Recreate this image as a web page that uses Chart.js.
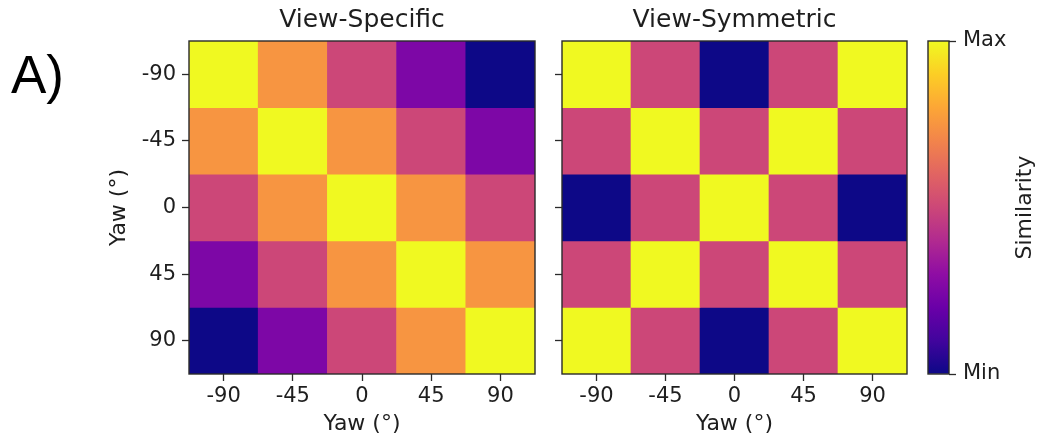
<!DOCTYPE html>
<html>
<head>
<meta charset="utf-8">
<script src="https://cdn.jsdelivr.net/npm/chart.js@4.4.1/dist/chart.umd.min.js"></script>
<style>
  html, body { margin: 0; padding: 0; background: #fff; }
  body { width: 1043px; height: 441px; position: relative; overflow: hidden; }
  .panel { position: absolute; top: 0; height: 441px; }
</style>
</head>
<body>
<div class="panel" style="left:0;width:550px"><canvas id="specific"></canvas></div>
<div class="panel" style="left:550px;width:365px"><canvas id="symmetric"></canvas></div>
<div class="panel" style="left:915px;width:128px"><canvas id="colorbar"></canvas></div>
<script>
// Yaw angles shared by both axes of both matrices
const yawLabels = ['-90', '-45', '0', '45', '90'];

// Similarity between views (rows: yaw on y axis, columns: yaw on x axis)
const viewSpecific = [
  [1.00, 0.75, 0.50, 0.25, 0.00],
  [0.75, 1.00, 0.75, 0.50, 0.25],
  [0.50, 0.75, 1.00, 0.75, 0.50],
  [0.25, 0.50, 0.75, 1.00, 0.75],
  [0.00, 0.25, 0.50, 0.75, 1.00]
];
const viewSymmetric = [
  [1.00, 0.50, 0.00, 0.50, 1.00],
  [0.50, 1.00, 0.50, 1.00, 0.50],
  [0.00, 0.50, 1.00, 0.50, 0.00],
  [0.50, 1.00, 0.50, 1.00, 0.50],
  [1.00, 0.50, 0.00, 0.50, 1.00]
];

const colorbarRange = [0, 1];
const colorbarLabels = ['Min', 'Max'];
const panelTitles = ['View-Specific', 'View-Symmetric'];
const axisTitle = 'Yaw (°)';
const colorbarTitle = 'Similarity';
const panelTag = 'A)';

Chart.defaults.font.family = '"DejaVu Sans", sans-serif';
Chart.defaults.color = '#1e1e1e';
const INK = '#2a2a2a';

// plasma colour map, sampled every 0.1
const PLASMA = ['#0d0887', '#41049d', '#6a00a8', '#8f0da4', '#b12a90', '#cc4778',
                '#e16462', '#f2844b', '#fca636', '#fcce25', '#f0f921'];

function hexToRgb(h) {
  const n = parseInt(h.slice(1), 16);
  return [(n >> 16) & 255, (n >> 8) & 255, n & 255];
}
function plasma(t) {
  const x = Math.min(1, Math.max(0, t)) * (PLASMA.length - 1);
  const i = Math.min(PLASMA.length - 2, Math.floor(x));
  const f = x - i;
  const a = hexToRgb(PLASMA[i]), b = hexToRgb(PLASMA[i + 1]);
  const c = a.map((v, k) => Math.round(v + (b[k] - v) * f));
  return `rgb(${c[0]},${c[1]},${c[2]})`;
}

// dark box around each plotting area
const framePlugin = {
  id: 'frame',
  afterDatasetsDraw(chart) {
    const { ctx, chartArea: a } = chart;
    ctx.save();
    ctx.strokeStyle = INK;
    ctx.lineWidth = 1.4;
    ctx.strokeRect(a.left, a.top, a.right - a.left, a.bottom - a.top);
    ctx.restore();
  }
};

// panel letter in the top-left corner
const tagPlugin = {
  id: 'tag',
  afterDraw(chart) {
    const ctx = chart.ctx;
    ctx.save();
    ctx.fillStyle = '#000';
    ctx.font = '53px "Liberation Sans", Arial, sans-serif';
    ctx.textAlign = 'left';
    ctx.textBaseline = 'alphabetic';
    ctx.fillText(panelTag, 11, 93);
    ctx.restore();
  }
};

// colour bar caption, reading bottom to top
const colorbarTitlePlugin = {
  id: 'cbarTitle',
  afterDraw(chart) {
    const { ctx, chartArea: a } = chart;
    ctx.save();
    ctx.translate(a.right + 76, (a.top + a.bottom) / 2);
    ctx.rotate(-Math.PI / 2);
    ctx.fillStyle = '#1e1e1e';
    ctx.font = '22px "DejaVu Sans", sans-serif';
    ctx.textAlign = 'center';
    ctx.textBaseline = 'middle';
    ctx.fillText(colorbarTitle, 0, 0);
    ctx.restore();
  }
};

const tickGrid = {
  drawOnChartArea: false,
  drawTicks: true,
  tickLength: 7,
  tickColor: INK,
  tickWidth: 1.3,
  offset: false
};

function heatmap(canvasId, matrix, title, showYLabels, padding, extraPlugins) {
  const rowIndex = yawLabels.map((_, i) => i);
  return new Chart(document.getElementById(canvasId), {
    type: 'bar',
    data: {
      labels: yawLabels,
      datasets: matrix.map((row, i) => ({
        data: row.map(() => [i - 0.5, i + 0.5]),
        backgroundColor: row.map(plasma),
        borderWidth: 0,
        grouped: false,
        barPercentage: 1,
        categoryPercentage: 1
      }))
    },
    options: {
      responsive: true,
      maintainAspectRatio: false,
      animation: false,
      events: [],
      layout: { padding },
      plugins: {
        legend: { display: false },
        tooltip: { enabled: false },
        title: {
          display: true,
          text: title,
          fullSize: false,
          font: { size: 25, weight: 'normal' },
          padding: { top: 5, bottom: 6 }
        }
      },
      scales: {
        x: {
          type: 'category',
          grid: tickGrid,
          border: { display: false },
          ticks: { font: { size: 21 }, padding: 3, maxRotation: 0, autoSkip: false },
          title: { display: true, text: axisTitle, font: { size: 22 }, padding: { top: 0, bottom: 4 } },
          afterFit(s) { s.height = 67; }
        },
        y: {
          type: 'linear',
          min: -0.5,
          max: 4.5,
          reverse: true,
          grid: tickGrid,
          border: { display: false },
          afterBuildTicks(s) { s.ticks = rowIndex.map(v => ({ value: v })); },
          ticks: {
            font: { size: 21 },
            padding: 6,
            callback: (v) => showYLabels ? yawLabels[v] : ''
          },
          title: { display: showYLabels, text: axisTitle, font: { size: 22 }, padding: { top: 7, bottom: 0 } },
          afterFit(s) { s.width = showYLabels ? 90 : 7; }
        }
      }
    },
    plugins: [framePlugin].concat(extraPlugins || [])
  });
}

heatmap('specific', viewSpecific, panelTitles[0], true, { left: 99, right: 15, top: 0, bottom: 0 }, [tagPlugin]);
heatmap('symmetric', viewSymmetric, panelTitles[1], false, { left: 5, right: 8, top: 0, bottom: 0 });

new Chart(document.getElementById('colorbar'), {
  type: 'bar',
  data: {
    labels: [''],
    datasets: [{
      data: [colorbarRange],
      borderWidth: 0,
      barPercentage: 1,
      categoryPercentage: 1,
      backgroundColor(ctx) {
        const a = ctx.chart.chartArea;
        if (!a) return PLASMA[5];
        const g = ctx.chart.ctx.createLinearGradient(0, a.bottom, 0, a.top);
        PLASMA.forEach((c, i) => g.addColorStop(i / (PLASMA.length - 1), c));
        return g;
      }
    }]
  },
  options: {
    responsive: true,
    maintainAspectRatio: false,
    animation: false,
    events: [],
    layout: { padding: { left: 13, right: 0, top: 41, bottom: 67 } },
    plugins: { legend: { display: false }, tooltip: { enabled: false } },
    scales: {
      x: { display: false },
      y: {
        position: 'right',
        min: colorbarRange[0],
        max: colorbarRange[1],
        grid: tickGrid,
        border: { display: false },
        afterBuildTicks(s) { s.ticks = colorbarRange.map(v => ({ value: v })); },
        ticks: { font: { size: 21 }, padding: 7, callback: (v, i) => colorbarLabels[i] },
        afterFit(s) { s.width = 94; }
      }
    }
  },
  plugins: [framePlugin, colorbarTitlePlugin]
});
</script>
</body>
</html>
